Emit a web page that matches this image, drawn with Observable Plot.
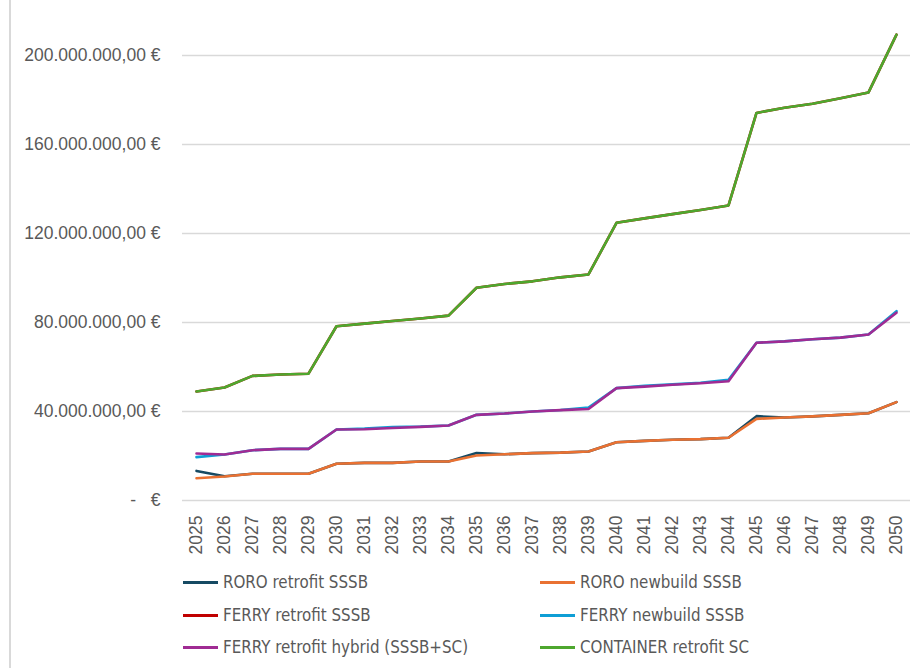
<!DOCTYPE html>
<html>
<head>
<meta charset="utf-8">
<script src="https://cdn.jsdelivr.net/npm/d3@7"></script>
<script src="https://cdn.jsdelivr.net/npm/@observablehq/plot@0.6"></script>
<style>
  html, body { margin: 0; padding: 0; background: #fff; }
  #wrap { position: relative; width: 919px; height: 668px; overflow: hidden; }
  #border { position: absolute; left: 9px; top: 0; width: 1.5px; height: 668px; background: #d9d9d9; }
  #chart { position: absolute; left: 0; top: 0; }
  .leg { position: absolute; display: flex; align-items: center; font-family: "Liberation Sans Narrow", "Arial Narrow", "DejaVu Sans Condensed", sans-serif; font-size: 16.8px; color: #595959; white-space: nowrap; }
  .leg .sw { width: 35px; height: 3px; margin-right: 5px; }
</style>
</head>
<body>
<div id="wrap">
  <div id="border"></div>
  <div id="chart"></div>
  <div id="legend"></div>
</div>
<script>
// Data (values in million €)
const years = [2025,2026,2027,2028,2029,2030,2031,2032,2033,2034,2035,2036,2037,2038,2039,2040,2041,2042,2043,2044,2045,2046,2047,2048,2049,2050];
const seriesNames = ["RORO retrofit SSSB","RORO newbuild SSSB","FERRY retrofit SSSB","FERRY newbuild SSSB","FERRY retrofit hybrid (SSSB+SC)","CONTAINER retrofit SC"];
const seriesColors = ["#164a63","#e97132","#c00000","#0f9ed5","#a02b93","#4ea72e"];
const roroRetrofit = [13.3,10.9,12.0,12.0,12.0,16.5,16.9,16.9,17.5,17.5,21.3,20.8,21.3,21.5,22.0,26.2,26.8,27.3,27.6,28.2,37.9,37.3,37.8,38.5,39.2,44.2];
const roroNewbuild = [10.0,10.8,12.0,12.0,12.0,16.5,16.9,16.9,17.5,17.5,20.2,20.8,21.3,21.5,22.0,26.2,26.8,27.3,27.6,28.2,36.7,37.3,37.8,38.5,39.2,44.2];
const ferryRetrofit = [49.0,50.8,56.0,56.6,57.0,78.3,79.5,80.7,81.8,83.1,95.6,97.3,98.5,100.3,101.6,124.8,126.8,128.7,130.6,132.6,174.2,176.5,178.3,180.8,183.4,209.4];
const ferryNewbuild = [19.5,20.7,22.6,23.2,23.2,31.9,32.3,33.0,33.2,33.7,38.5,39.1,40.0,40.7,41.8,50.5,51.6,52.2,52.9,54.2,70.9,71.5,72.5,73.2,74.6,85.1];
const ferryHybrid = [21.1,20.7,22.6,23.2,23.2,31.9,32.0,32.6,33.1,33.7,38.5,39.1,40.0,40.6,41.1,50.5,51.2,52.0,52.7,53.6,70.9,71.5,72.5,73.2,74.6,84.4];
const containerRetrofit = [49.0,50.8,56.0,56.6,57.0,78.3,79.5,80.7,81.8,83.1,95.6,97.3,98.5,100.3,101.6,124.8,126.8,128.7,130.6,132.6,174.2,176.5,178.3,180.8,183.4,209.4];
const yTicks = [0,40,80,120,160,200];

const allSeries = [roroRetrofit, roroNewbuild, ferryRetrofit, ferryNewbuild, ferryHybrid, containerRetrofit];
const rows = [];
allSeries.forEach((vals, si) => vals.forEach((v, i) => rows.push({series: seriesNames[si], year: years[i], value: v * 1e6})));

const loc = d3.formatLocale({decimal: ",", thousands: ".", grouping: [3], currency: ["", "\u00a0€"]});
const fmt = loc.format(",.2f");
const yFormat = d => d === 0 ? "-\u00a0\u00a0\u00a0€" : fmt(d) + "\u00a0€";

const chart = Plot.plot({
  width: 919,
  height: 560,
  marginLeft: 182,
  marginRight: 9,
  marginTop: 10.5,
  marginBottom: 60,
  style: {fontFamily: "'Liberation Sans', Arial, sans-serif", fontSize: "17.5px", color: "#595959", background: "transparent"},
  x: {type: "point", domain: years, padding: 0.5, label: null},
  y: {domain: [0, 220e6], label: null},
  color: {domain: seriesNames, range: seriesColors},
  marks: [
    Plot.gridY(yTicks.map(d => d * 1e6), {stroke: "#d9d9d9", strokeOpacity: 1, strokeWidth: 1.5}),
    Plot.axisY(yTicks.map(d => d * 1e6), {tickSize: 0, tickPadding: 22, tickFormat: yFormat, label: null}),
    Plot.axisX(years, {tickSize: 0, tickPadding: 15, tickRotate: -90, label: null, tickFormat: d => String(d)}),
    Plot.line(rows, {x: "year", y: "value", z: "series", stroke: "series", strokeWidth: 2.6, strokeLinejoin: "round", strokeLinecap: "round"})
  ]
});
chart.querySelectorAll("text").forEach(t => t.setAttribute("xml:space", "preserve"));
chart.style.whiteSpace = "pre";
document.getElementById("chart").appendChild(chart);

// Legend
const legend = document.getElementById("legend");
const legPos = [[183,582],[540,582],[183,615],[540,615],[183,647],[540,647]];
seriesNames.forEach((name, i) => {
  const d = document.createElement("div");
  d.className = "leg";
  d.style.left = legPos[i][0] + "px";
  d.style.top = (legPos[i][1] - 12) + "px";
  d.style.height = "24px";
  const sw = document.createElement("span");
  sw.className = "sw";
  sw.style.background = seriesColors[i];
  const tx = document.createElement("span");
  tx.textContent = name;
  d.appendChild(sw);
  d.appendChild(tx);
  legend.appendChild(d);
});
</script>
</body>
</html>
